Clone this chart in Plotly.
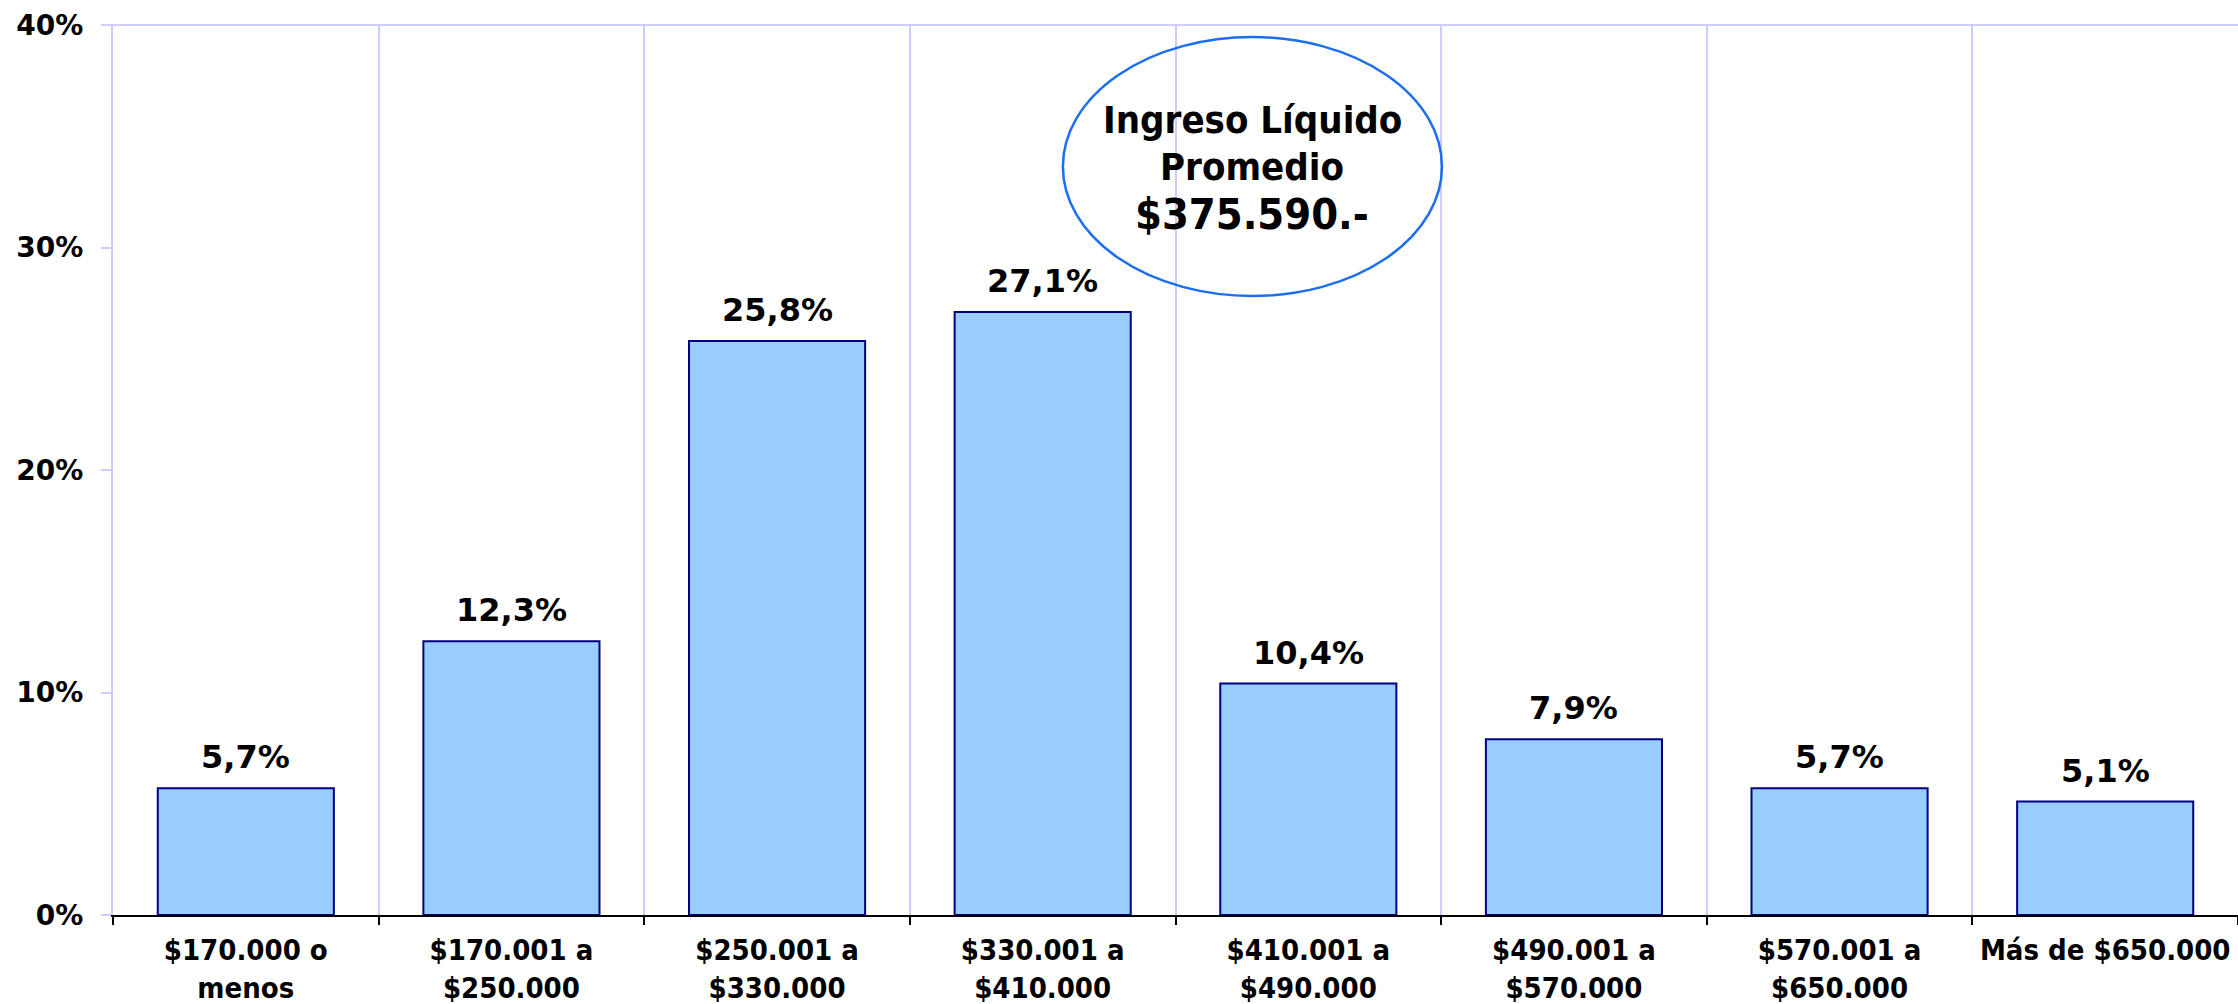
import plotly.graph_objects as go

categories = ["$170.000 o<br>menos", "$170.001 a<br>$250.000", "$250.001 a<br>$330.000",
              "$330.001 a<br>$410.000", "$410.001 a<br>$490.000", "$490.001 a<br>$570.000",
              "$570.001 a<br>$650.000", "Más de $650.000"]
values = [5.7, 12.3, 25.8, 27.1, 10.4, 7.9, 5.7, 5.1]
labels = ["5,7%", "12,3%", "25,8%", "27,1%", "10,4%", "7,9%", "5,7%", "5,1%"]
y_ticks = [0, 10, 20, 30, 40]
y_ticktext = ["0%", "10%", "20%", "30%", "40%"]
callout_lines = ["Ingreso Líquido", "Promedio", "$375.590.-"]

FONT_C = "DejaVu Sans Condensed, DejaVu Sans, sans-serif"
FONT = "DejaVu Sans, sans-serif"
LAV = "#ccccff"

fig = go.Figure()
fig.add_trace(go.Bar(
    x=categories, y=values,
    marker=dict(color="#99ccff", line=dict(color="#000080", width=2)),
))

# data labels above the bars
for c, v, t in zip(categories, values, labels):
    fig.add_annotation(x=c, y=v, text=t, showarrow=False, yanchor="bottom", yshift=10,
                       font=dict(family=FONT, size=32, color="black", weight="bold"))

fig.update_layout(
    width=2238, height=1004,
    margin=dict(l=113, r=0, t=25, b=89),
    paper_bgcolor="white", plot_bgcolor="white",
    bargap=0.337, showlegend=False,
    font=dict(family=FONT, color="black"),
    xaxis=dict(type="category", tickson="boundaries", showgrid=True, gridcolor=LAV, gridwidth=2,
               showline=True, linecolor="black", linewidth=2, automargin=False,
               ticks="outside", tickcolor="black", ticklen=8, tickwidth=2,
               ticklabelstandoff=8,
               tickfont=dict(family=FONT_C, size=29, color="black", weight="bold")),
    yaxis=dict(range=[0, 40], tickvals=y_ticks, ticktext=y_ticktext, showgrid=False,
               showline=True, linecolor=LAV, linewidth=2, zeroline=False, automargin=False,
               ticks="outside", tickcolor=LAV, ticklen=10, tickwidth=2,
               ticklabelstandoff=12,
               tickfont=dict(family=FONT, size=28, color="black", weight="bold")),
)

# top border of plot area
fig.add_shape(type="line", xref="paper", yref="paper", x0=-0.0052, x1=1, y0=1, y1=1,
              line=dict(color=LAV, width=2))

# ellipse callout
fig.add_shape(type="circle", xref="paper", yref="paper",
              x0=0.447, x1=0.6254, y0=0.6955, y1=0.9865,
              line=dict(color="#1a6ff0", width=2.5), fillcolor="rgba(0,0,0,0)")
for txt, yy, sz in zip(callout_lines, [0.893, 0.840, 0.788], [38, 38, 43]):
    fig.add_annotation(xref="paper", yref="paper", x=0.536, y=yy, showarrow=False,
                       yanchor="middle", xanchor="center",
                       text=txt, font=dict(family=FONT_C, size=sz, weight="bold"))

fig.write_html("out.html", config={"displayModeBar": False},
               post_script="document.body.style.margin='0';document.body.style.overflow='hidden';")
